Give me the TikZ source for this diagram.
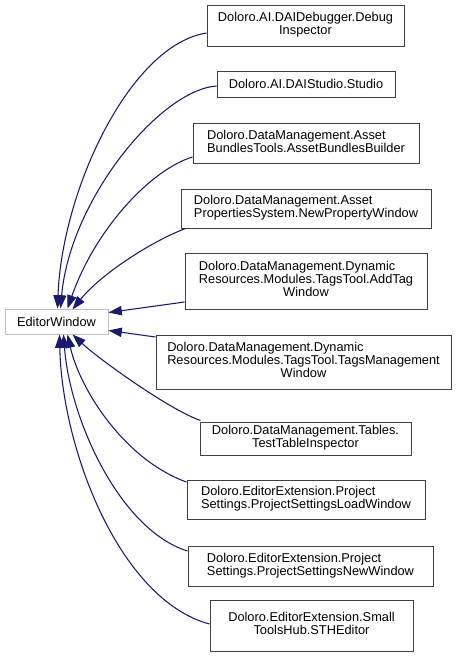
\documentclass[tikz,border=0pt]{standalone}
\usepackage{fontspec}
\setmainfont{Liberation Sans}
\usetikzlibrary{arrows.meta,calc}
\definecolor{edgeblue}{HTML}{191970}
\definecolor{boxgray}{HTML}{404040}
\definecolor{basegray}{HTML}{BFBFBF}
\newcommand{\lastline}[1]{\multicolumn{1}{@{}c@{}}{#1}}
\begin{document}
\begin{tikzpicture}[x=0.75pt,y=-0.75pt,
  cls/.style 2 args={draw=boxgray, line width=0.75pt, fill=white, inner sep=0pt,
    minimum width=#1*0.75pt, minimum height=#2*0.75pt,
    font=\fontsize{9.6}{9.75}\selectfont},
  base/.style 2 args={cls={#1}{#2}, draw=basegray},
  edge/.style={draw=edgeblue, line width=0.8pt, -{Triangle[length=10pt,width=7pt]}}
]
\fill[white] (0,0) rectangle (461,657);
\useasboundingbox (0,0) rectangle (461,657);

\node[base={103}{25}] (ew) at (56.5,321.5) {EditorWindow};

\node[cls={197}{41}] (dbg) at (305.5,25.5) {\begin{tabular}{@{}l@{}}Doloro.AI.DAIDebugger.Debug\\\lastline{Inspector}\end{tabular}};
\node[cls={178}{26}] (studio) at (306,84) {Doloro.AI.DAIStudio.Studio};
\node[cls={226}{40}] (abb) at (306,143) {\begin{tabular}{@{}l@{}}Doloro.DataManagement.Asset\\\lastline{BundlesTools.AssetBundlesBuilder}\end{tabular}};
\node[cls={250}{39}] (npw) at (306,208.5) {\begin{tabular}{@{}l@{}}Doloro.DataManagement.Asset\\\lastline{PropertiesSystem.NewPropertyWindow}\end{tabular}};
\node[cls={242}{56}] (atw) at (306,281) {\begin{tabular}{@{}l@{}}Doloro.DataManagement.Dynamic\\Resources.Modules.TagsTool.AddTag\\\lastline{Window}\end{tabular}};
\node[cls={295}{54}] (tmw) at (303.5,362) {\begin{tabular}{@{}l@{}}Doloro.DataManagement.Dynamic\\Resources.Modules.TagsTool.TagsManagement\\\lastline{Window}\end{tabular}};
\node[cls={211}{33}] (tti) at (305.5,438.5) {\begin{tabular}{@{}l@{}}Doloro.DataManagement.Tables.\\\lastline{TestTableInspector}\end{tabular}};
\node[cls={238}{39}] (lw) at (306,499.5) {\begin{tabular}{@{}l@{}}Doloro.EditorExtension.Project\\\lastline{Settings.ProjectSettingsLoadWindow}\end{tabular}};
\node[cls={245}{40}] (nw) at (310.5,566) {\begin{tabular}{@{}l@{}}Doloro.EditorExtension.Project\\\lastline{Settings.ProjectSettingsNewWindow}\end{tabular}};
\node[cls={203}{51}] (sth) at (311.5,625.5) {\begin{tabular}{@{}l@{}}Doloro.EditorExtension.Small\\\lastline{ToolsHub.STHEditor}\end{tabular}};

% arrow tips on EditorWindow
\coordinate (t1) at ($(ew.north west)+(53,0)$);
\coordinate (t2) at ($(ew.north west)+(56,0)$);
\coordinate (t3) at ($(ew.north west)+(63,0)$);
\coordinate (t4) at ($(ew.north west)+(68,1)$);
\coordinate (t5) at ($(ew.north east)+(0,4)$);
\coordinate (t6) at ($(ew.south east)+(0,-4)$);
\coordinate (t7) at ($(ew.south west)+(68,0)$);
\coordinate (t8) at ($(ew.south west)+(63,0)$);
\coordinate (t9) at ($(ew.south west)+(59,0)$);
\coordinate (t10) at ($(ew.south west)+(55,0)$);

\draw[edge] ($(dbg.west)+(0,7.5)$) .. controls (130,45) and (62,190) .. (t1);
\draw[edge] ($(studio.west)+(0,2)$) .. controls (160,90) and (70,200) .. (t2);
\draw[edge] ($(abb.west)+(0,14)$) .. controls (150,170) and (95,230) .. (t3);
\draw[edge] ($(npw.south west)+(5,0)$) .. controls (150,242) and (100,275) .. (t4);
\draw[edge] ($(atw.west)+(0,21)$) -- (t5);
\draw[edge] ($(tmw.west)+(0,-25)$) -- (t6);
\draw[edge] ($(tti.north west)+(1,-1)$) .. controls (170,410) and (100,360) .. (t7);
\draw[edge] ($(lw.west)+(0,-17.5)$) .. controls (125,460) and (80,390) .. (t8);
\draw[edge] ($(nw.west)+(0,-15)$) .. controls (120,530) and (70,420) .. (t9);
\draw[edge] ($(sth.west)+(0,-1.5)$) .. controls (120,600) and (62,450) .. (t10);
\end{tikzpicture}
\end{document}
